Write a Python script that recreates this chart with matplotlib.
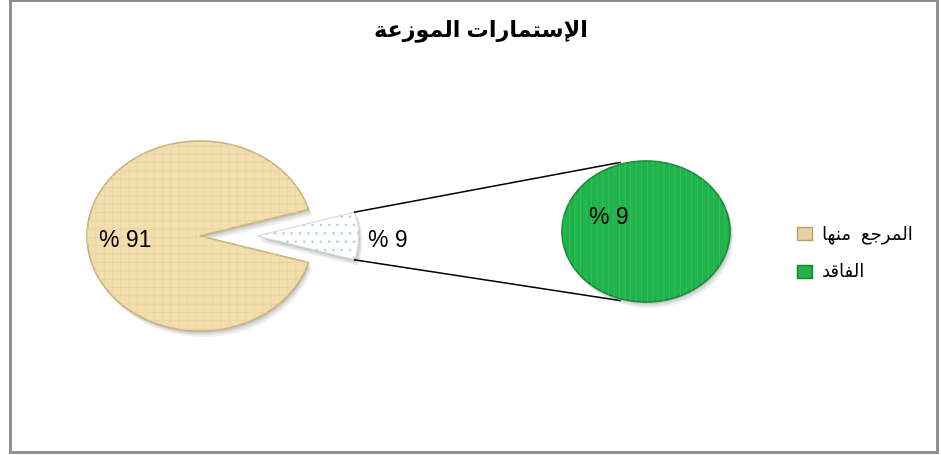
import numpy as np
import matplotlib.pyplot as plt
from matplotlib.patches import Wedge, Rectangle
from matplotlib.transforms import Affine2D

# data ---------------------------------------------------
# arabic strings already written in presentation forms and visual order,
# matplotlib does no shaping of its own
title_text = "ﺔﻋﺯﻮﻤﻟﺍ ﺕﺍﺭﺎﻤﺘﺳﻹﺍ"             # الإستمارات الموزعة
category_labels = ["ﺎﻬﻨﻣ  ﻊﺟﺮﻤﻟﺍ", "ﺪﻗﺎﻔﻟﺍ"]  # المرجع منها , الفاقد
shares = [91, 9]
second_pie_shares = [9]

fonts = ["Liberation Sans", "DejaVu Sans"]
plt.rcParams["font.family"] = fonts
plt.rcParams["hatch.linewidth"] = 0.6

W, H = 941, 456
fig = plt.figure(figsize=(W / 100, H / 100), dpi=100)
ax = fig.add_axes([0, 0, 1, 1])
ax.set_xlim(0, W)
ax.set_ylim(H, 0)
ax.axis("off")


def ell(cx, cy, rx, ry):
    # unit circle -> stretched ellipse in pixel coords
    return Affine2D().scale(rx, ry).translate(cx, cy) + ax.transData


def wedge(cx, cy, rx, ry, t1, t2, shadow=True, **kw):
    if shadow:
        for k, a in [(6, 0.06), (4, 0.08), (2, 0.1)]:
            ax.add_patch(Wedge((0, 0), 1, t1, t2, transform=ell(cx + k * 0.6, cy + k, rx, ry),
                               facecolor="black", edgecolor="none", alpha=a))
    hatch = kw.pop("hatch", None)
    hcol = kw.pop("hatchcolor", None)
    p = Wedge((0, 0), 1, t1, t2, transform=ell(cx, cy, rx, ry), **kw)
    ax.add_patch(p)
    if hatch:
        ax.add_patch(Wedge((0, 0), 1, t1, t2, transform=ell(cx, cy, rx, ry),
                           fill=False, hatch=hatch, edgecolor=hcol, linewidth=0))
    return p


# frame
ax.add_patch(Rectangle((10, 1), 927, 452, fill=False, edgecolor="#8a8a8a", linewidth=2))

# title
ax.text(481, 31, title_text, ha="center", va="center", fontsize=16, fontweight="bold")

# main pie ------------------------------------------------
cx, cy, rx, ry = 200, 237, 113, 95
total = sum(shares)
half = 360 * shares[1] / total / 2
wedge(cx, cy, rx, ry, half, 360 - half, facecolor="#f3dfad", edgecolor="#c9b27e",
      linewidth=1.2, hatch="++", hatchcolor="#ead49f")

# split-out slice
sx = cx + 57
sr = 0.9
wedge(sx, cy, rx * sr, ry * sr, -half, half, facecolor="white", edgecolor="#d8d8d8",
      linewidth=0.8, hatch="..", hatchcolor="#9fe0bd")

# second pie
gx, gy, grx, gry = 646, 232.5, 84, 70.5
wedge(gx, gy, grx, gry, 0, 360 * second_pie_shares[0] / shares[1], facecolor="#22b24c",
      edgecolor="#178a39", linewidth=1.2, hatch="|||", hatchcolor="#33c25c")

# connector lines
p_top = (sx + rx * sr * np.cos(np.radians(half)), cy - ry * sr * np.sin(np.radians(half)))
p_bot = (p_top[0], cy + ry * sr * np.sin(np.radians(half)))
t = np.radians(108)
q_top = (gx + grx * np.cos(t), gy - gry * np.sin(t) - 2)
q_bot = (gx + grx * np.cos(t), gy + gry * np.sin(t) + 2)
ax.plot([p_top[0], q_top[0]], [p_top[1], q_top[1]], color="black", lw=1.1)
ax.plot([p_bot[0], q_bot[0]], [p_bot[1], q_bot[1]], color="black", lw=1.1)

# data labels
ax.text(125, 241, f"% {shares[0]}", ha="center", va="center", fontsize=16.5)
ax.text(388, 241, f"% {shares[1]}", ha="center", va="center", fontsize=16.5)
ax.text(609, 218, f"% {second_pie_shares[0]}", ha="center", va="center", fontsize=16.5)

# legend
leg_cols = ["#e6d2a0", "#22b24c"]
leg_edges = ["#b89e6a", "#168236"]
for i, (lab, c, e) in enumerate(zip(category_labels, leg_cols, leg_edges)):
    y = 234.5 + i * 38
    ax.add_patch(Rectangle((797, y - 6.5), 15, 13, facecolor=c, edgecolor=e, linewidth=1))
    ax.text(822, y, lab, ha="left", va="center", fontsize=13)

fig.savefig("out.png", dpi=100)
